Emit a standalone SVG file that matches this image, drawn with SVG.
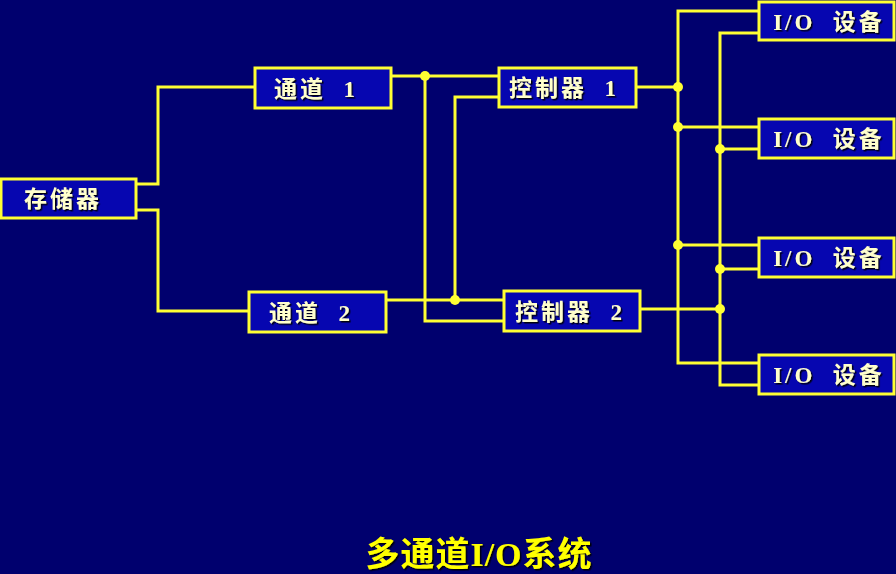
<svg xmlns="http://www.w3.org/2000/svg" width="896" height="574" viewBox="0 0 896 574">
<defs>
<filter id="sh" x="-10%" y="-10%" width="130%" height="130%"><feDropShadow dx="1.5" dy="1.5" stdDeviation="0.3" flood-color="#000000" flood-opacity="0.9"/></filter>
</defs>
<style>
.bg{fill:#00006e}
.box{fill:#0606b0;stroke:#ffff33;stroke-width:3}
.lbl{fill:#ffffcc;font-family:"Liberation Serif","Noto Sans CJK SC",serif;font-size:23px;font-weight:bold;letter-spacing:3px;text-anchor:middle;filter:url(#sh)}
.ln{fill:none;stroke:#ffff33;stroke-width:3}
.dot{fill:#ffff33}
.title{fill:#ffff00;font-family:"Liberation Serif","Noto Sans CJK SC",serif;font-size:34px;font-weight:bold;letter-spacing:1px;text-anchor:middle;filter:url(#sh)}
</style>
<rect class="bg" x="0" y="0" width="896" height="574"/>
<g id="connectors">
<polyline class="ln" points="136,184 158,184 158,87 255,87"/>
<polyline class="ln" points="136,210 158,210 158,311 249,311"/>
<polyline class="ln" points="391,76 499,76"/>
<polyline class="ln" points="386,300 504,300"/>
<polyline class="ln" points="499,97 455,97 455,300"/>
<polyline class="ln" points="425,76 425,321 504,321"/>
<polyline class="ln" points="636,87 678,87"/>
<polyline class="ln" points="640,309 720,309"/>
<polyline class="ln" points="759,11 678,11 678,363 759,363"/>
<polyline class="ln" points="759,33 720,33 720,385 759,385"/>
<line class="ln" x1="678" y1="127" x2="759" y2="127"/>
<line class="ln" x1="720" y1="149" x2="759" y2="149"/>
<line class="ln" x1="678" y1="245" x2="759" y2="245"/>
<line class="ln" x1="720" y1="269" x2="759" y2="269"/>
<circle class="dot" cx="425" cy="76" r="5"/>
<circle class="dot" cx="455" cy="300" r="5"/>
<circle class="dot" cx="678" cy="87" r="5"/>
<circle class="dot" cx="720" cy="309" r="5"/>
<circle class="dot" cx="678" cy="127" r="5"/>
<circle class="dot" cx="720" cy="149" r="5"/>
<circle class="dot" cx="678" cy="245" r="5"/>
<circle class="dot" cx="720" cy="269" r="5"/>
</g>
<g id="memory"><rect class="box" x="1" y="179" width="135" height="39"/><text class="lbl" x="63" y="207">存储器</text></g>
<g id="channel1"><rect class="box" x="255" y="68" width="136" height="40"/><text class="lbl" x="316" y="97" xml:space="preserve">通道  1</text></g>
<g id="channel2"><rect class="box" x="249" y="292" width="137" height="40"/><text class="lbl" x="311" y="321" xml:space="preserve">通道  2</text></g>
<g id="ctrl1"><rect class="box" x="499" y="68" width="137" height="39"/><text class="lbl" x="564" y="96" xml:space="preserve">控制器  1</text></g>
<g id="ctrl2"><rect class="box" x="504" y="291" width="136" height="40"/><text class="lbl" x="570" y="320" xml:space="preserve">控制器  2</text></g>
<g id="io1"><rect class="box" x="759" y="2" width="135" height="38"/><text class="lbl" x="829" y="30" xml:space="preserve">I/O  设备</text></g>
<g id="io2"><rect class="box" x="759" y="119" width="135" height="39"/><text class="lbl" x="829" y="147" xml:space="preserve">I/O  设备</text></g>
<g id="io3"><rect class="box" x="759" y="238" width="135" height="39"/><text class="lbl" x="829" y="266" xml:space="preserve">I/O  设备</text></g>
<g id="io4"><rect class="box" x="759" y="355" width="135" height="39"/><text class="lbl" x="829" y="383" xml:space="preserve">I/O  设备</text></g>
<text class="title" x="479" y="566">多通道I/O系统</text>
</svg>
